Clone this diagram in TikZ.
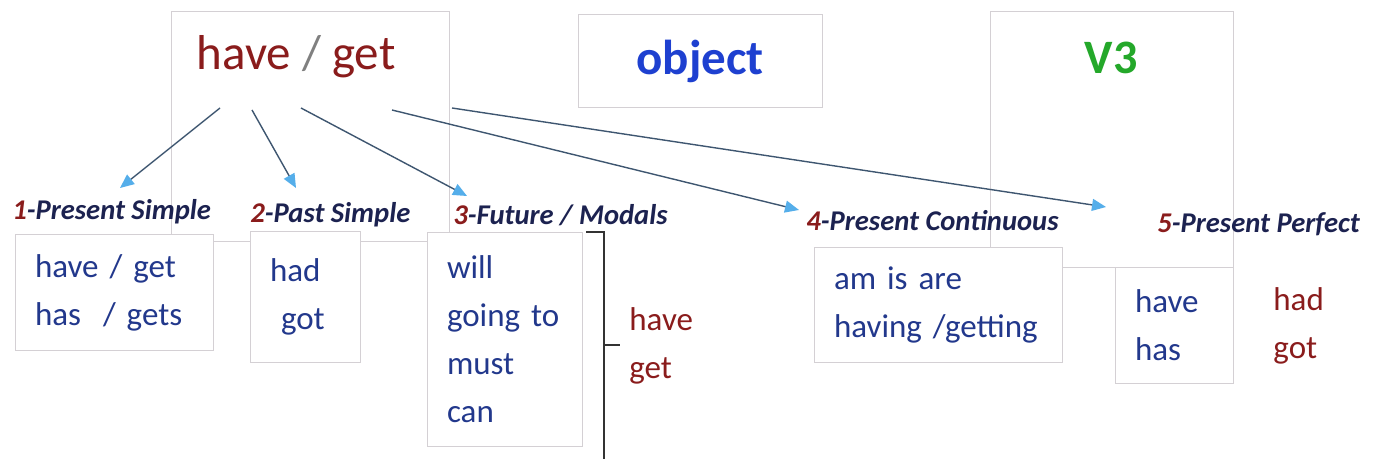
\documentclass[tikz,border=0pt]{standalone}
\usepackage{fontspec}
\setmainfont{Carlito}
\usepackage{xcolor}
\usetikzlibrary{arrows.meta,positioning}
\definecolor{verbred}{HTML}{8A1C1C}
\definecolor{txtblue}{HTML}{22388C}
\definecolor{headnavy}{HTML}{1C2250}
\definecolor{objblue}{HTML}{1E40D0}
\definecolor{vgreen}{HTML}{24A82A}
\definecolor{linegray}{HTML}{D4D0D4}
\definecolor{arrline}{HTML}{3E5670}
\definecolor{arrhead}{HTML}{55AEEA}
\tikzset{
  frame/.style={draw=linegray, line width=0.5pt, fill=white, inner sep=0pt},
  box/.style={frame, inner xsep=10pt, align=left, text=txtblue, font=\fontsize{16.5}{24}\selectfont},
  tense/.style={anchor=west, inner sep=0pt, text=headnavy, font=\fontsize{14.3}{16}\selectfont\bfseries\itshape},
  arr/.style={arrline, line width=0.7pt, -{Triangle[length=7pt,width=6pt,color=arrhead]}},
}

\begin{document}
\begin{tikzpicture}[x=0.5pt,y=-0.5pt]
      \useasboundingbox (0,0) rectangle (1374,459);
      % Draw the big frames
      \node[frame, minimum width=139pt, minimum height=115pt] (hgbox) at (310,127) {};
      \node[frame, minimum width=122pt, minimum height=46.5pt, text=objblue, font=\fontsize{24.5}{28}\selectfont\bfseries] (obj) at (700,61.5) {object};
      \node[frame, minimum width=121.5pt, minimum height=128pt] (vbox) at (1111.5,140) {};
      \node[text=verbred, font=\fontsize{24.5}{28}\selectfont] (hg) at (296,57) {have \textcolor{gray}{/} get};
      \node[text=vgreen, font=\fontsize{24}{28}\selectfont\bfseries] (v3) at (1111,58) {V3};
      % Tenses
      \node[tense] (t1) at (12,212) {\textcolor{verbred}{1}-Present Simple};
      \node[tense] (t2) at (250,215) {\textcolor{verbred}{2}-Past Simple};
      \node[tense] (t3) at (453,215) {\textcolor{verbred}{3}-Future / Modals};
      \node[tense] (t4) at (806,221) {\textcolor{verbred}{4}-Present Continuous};
      \node[tense] (t5) at (1157,224) {\textcolor{verbred}{5}-Present Perfect};
      % Draw the boxes
      \node[box, text width=79pt, minimum height=57.5pt] (b1) at (114,292.5) {have / get\\has \ / gets};
      \node[box, text width=35pt, minimum height=65pt, inner xsep=10pt] (b2) at (305,297) {had\\\ got};
      \node[box, text width=57.5pt, minimum height=106.5pt] (b3) at (504.5,339.5) {will\\going to\\must\\can};
      \node[box, text width=104pt, minimum height=57pt] (b4) at (938,305) {am is are\\having /getting};
      \node[box, text width=39pt, minimum height=57.5pt] (b5) at (1174,325.5) {have\\has};
      % Words beside the boxes
      \node[anchor=west, align=left, inner sep=0pt, text=verbred, font=\fontsize{16.5}{24}\selectfont] (modv) at (629,346) {have\\get};
      \node[anchor=west, align=left, inner sep=0pt, text=verbred, font=\fontsize{16.5}{24}\selectfont] (perfv) at (1273,326) {had\\got};
      % Bracket
      \draw[line width=0.7pt, black!80] (586,232) -- (604,232) -- (604,459);
      \draw[line width=0.7pt, black!80] (604,345) -- (620,345);
      % Arrows
      \coordinate (s1) at (220,108);
      \coordinate (s2) at (252,110);
      \coordinate (s3) at (301,108);
      \coordinate (s4) at (392,110);
      \coordinate (s5) at (452,108);
      \coordinate (e1) at (120,188);
      \coordinate (e2) at (296,188);
      \coordinate (e3) at (467,196);
      \coordinate (e4) at (799,210);
      \coordinate (e5) at (1106,207);
      \draw[arr] (s1) -- (e1);
      \draw[arr] (s2) -- (e2);
      \draw[arr] (s3) -- (e3);
      \draw[arr] (s4) -- (e4);
      \draw[arr] (s5) -- (e5);
\end{tikzpicture}
\end{document}
